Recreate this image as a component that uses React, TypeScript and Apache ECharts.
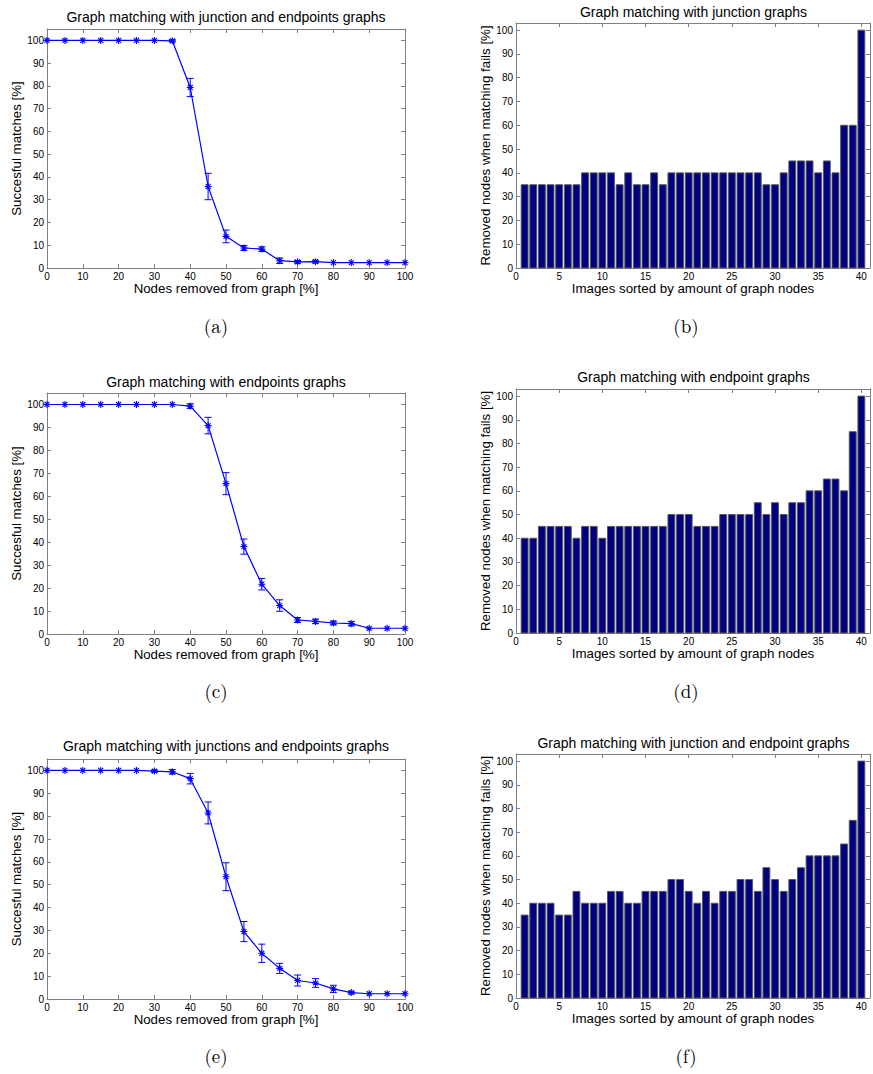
import React, { useEffect, useRef } from "react";
import * as echarts from "echarts";

// ---------- data ----------
const removedPct = [0, 5, 10, 15, 20, 25, 30, 35, 40, 45, 50, 55, 60, 65, 70, 75, 80, 85, 90, 95, 100];

const succA = [100, 100, 100, 100, 100, 100, 100, 99.8, 79.3, 35.8, 13.9, 8.8, 8.3, 3.2, 2.7, 2.8, 2.4, 2.4, 2.4, 2.4, 2.4];
const errA = [0, 0, 0, 0, 0, 0, 0, 0.5, 4.0, 5.8, 2.8, 1.1, 1.0, 1.2, 0.6, 0.6, 0, 0, 0, 0, 0];

const succC = [100, 100, 100, 100, 100, 100, 100, 100, 99.3, 90.8, 65.5, 38.1, 21.7, 12.4, 6.1, 5.5, 4.8, 4.5, 2.5, 2.5, 2.5];
const errC = [0, 0, 0, 0, 0, 0, 0, 0, 1.0, 3.6, 4.8, 3.3, 2.5, 2.5, 1.1, 1.0, 0.8, 1.0, 0, 0, 0];

const succE = [100, 100, 100, 100, 100, 100, 99.7, 99.4, 96.4, 81.4, 53.5, 29.5, 20.0, 13.4, 8.1, 7.0, 4.4, 2.8, 2.3, 2.3, 2.3];
const errE = [0, 0, 0, 0, 0, 0, 0.5, 1.0, 2.3, 4.8, 6.1, 4.4, 4.0, 2.2, 2.4, 1.9, 1.6, 0.6, 0, 0, 0];

const imageIdx = [1, 2, 3, 4, 5, 6, 7, 8, 9, 10, 11, 12, 13, 14, 15, 16, 17, 18, 19, 20, 21, 22, 23, 24, 25, 26, 27, 28, 29, 30, 31, 32, 33, 34, 35, 36, 37, 38, 39, 40];

const failB = [35, 35, 35, 35, 35, 35, 35, 40, 40, 40, 40, 35, 40, 35, 35, 40, 35, 40, 40, 40, 40, 40, 40, 40, 40, 40, 40, 40, 35, 35, 40, 45, 45, 45, 40, 45, 40, 60, 60, 100];
const failD = [40, 40, 45, 45, 45, 45, 40, 45, 45, 40, 45, 45, 45, 45, 45, 45, 45, 50, 50, 50, 45, 45, 45, 50, 50, 50, 50, 55, 50, 55, 50, 55, 55, 60, 60, 65, 65, 60, 85, 100];
const failF = [35, 40, 40, 40, 35, 35, 45, 40, 40, 40, 45, 45, 40, 40, 45, 45, 45, 50, 50, 45, 40, 45, 40, 45, 45, 50, 50, 45, 55, 50, 45, 50, 55, 60, 60, 60, 60, 65, 75, 100];

const titles = [
  "Graph matching with junction and endpoints graphs",
  "Graph matching with junction graphs",
  "Graph matching with endpoints graphs",
  "Graph matching with endpoint graphs",
  "Graph matching with junctions and endpoints graphs",
  "Graph matching with junction and endpoint graphs",
];
const captions = ["(a)", "(b)", "(c)", "(d)", "(e)", "(f)"];
const lineXLabel = "Nodes removed from graph [%]";
const lineYLabel = "Succesful matches [%]";
const barXLabel = "Images sorted by amount of graph nodes";
const barYLabel = "Removed nodes when matching fails [%]";

// ---------- layout ----------
const SANS = "'Liberation Sans', Arial, Helvetica, sans-serif";
const SERIF = "'Latin Modern Roman', 'DejaVu Serif', 'Liberation Serif', serif";
const BLUE = "#0000ff";
const BOX = "#808080";

type Panel = { left: number; top: number; width: number; height: number; kind: "line" | "bar" };
const panels: Panel[] = [
  { left: 47, top: 29, width: 358, height: 239, kind: "line" },
  { left: 516, top: 23, width: 355, height: 245, kind: "bar" },
  { left: 47, top: 393, width: 358, height: 241, kind: "line" },
  { left: 516, top: 389, width: 355, height: 244, kind: "bar" },
  { left: 47, top: 759, width: 358, height: 240, kind: "line" },
  { left: 516, top: 754, width: 355, height: 244, kind: "bar" },
];
const titleY = [17, 12, 382, 377, 746, 743];
const captionY = [325, 325, 690, 690, 1055, 1055];

const asterisk = "path://M0,-10L0,10M-10,0L10,0M-7.1,-7.1L7.1,7.1M-7.1,7.1L7.1,-7.1";

export default function App() {
  const ref = useRef<HTMLDivElement>(null);

  useEffect(() => {
    if (!ref.current) return;
    const chart = echarts.init(ref.current, undefined, { renderer: "svg" });

    const grids: any[] = [];
    const xAxes: any[] = [];
    const yAxes: any[] = [];
    const series: any[] = [];
    const graphics: any[] = [];

    const lineSets = [
      { s: succA, e: errA },
      { s: succC, e: errC },
      { s: succE, e: errE },
    ];
    const barSets = [failB, failD, failF];

    panels.forEach((p, i) => {
      grids.push({ left: p.left, top: p.top, width: p.width, height: p.height, show: false });
      const isLine = p.kind === "line";
      const xMax = isLine ? 100 : 41;
      const xInt = isLine ? 10 : 5;
      const yMax = isLine ? 105 : 103;
      const common = {
        gridIndex: i,
        axisLine: { show: true, onZero: false, lineStyle: { color: BOX, width: 1 } },
        axisTick: { show: true, inside: true, length: 4, lineStyle: { color: BOX } },
        splitLine: { show: false },
      };
      const xLabelFmt = (v: number) => (v % xInt === 0 && v <= (isLine ? 100 : 40) ? String(v) : "");
      const yLabelFmt = (v: number) => (v % 10 === 0 && v <= 100 ? String(v) : "");
      xAxes.push({
        ...common,
        type: "value",
        position: "bottom",
        min: 0,
        max: xMax,
        interval: xInt,
        axisLabel: { show: true, margin: 3, fontSize: 10, fontFamily: SANS, color: "#000", formatter: xLabelFmt, showMaxLabel: true },
        name: isLine ? lineXLabel : barXLabel,
        nameLocation: "middle",
        nameGap: 12,
        nameTextStyle: { fontSize: 13.3, fontFamily: SANS, color: "#000", verticalAlign: "top" },
      });
      xAxes.push({
        ...common,
        type: "value",
        position: "top",
        min: 0,
        max: xMax,
        interval: xInt,
        axisLabel: { show: false },
      });
      yAxes.push({
        ...common,
        type: "value",
        position: "left",
        min: 0,
        max: yMax,
        interval: 10,
        axisLabel: { show: true, margin: 3, fontSize: 10, fontFamily: SANS, color: "#000", formatter: yLabelFmt },
        name: isLine ? lineYLabel : barYLabel,
        nameLocation: "middle",
        nameGap: 22,
        nameRotate: 90,
        nameTextStyle: { fontSize: 13.3, fontFamily: SANS, color: "#000" },
      });
      yAxes.push({
        ...common,
        type: "value",
        position: "right",
        min: 0,
        max: yMax,
        interval: 10,
        axisLabel: { show: false },
      });

      const xi = 2 * i;
      const yi = 2 * i;
      if (isLine) {
        const set = lineSets[i / 2];
        series.push({
          type: "custom",
          xAxisIndex: xi,
          yAxisIndex: yi,
          silent: true,
          data: removedPct.map((x, k) => [x, set.s[k] - set.e[k], set.s[k] + set.e[k], set.e[k]]),
          renderItem: (_params: any, api: any) => {
            if (api.value(3) <= 0) return null;
            const x = api.value(0);
            const lo = api.coord([x, api.value(1)]);
            const hi = api.coord([x, api.value(2)]);
            const w = 3.5;
            const st = { stroke: BLUE, lineWidth: 1 };
            return {
              type: "group",
              children: [
                { type: "line", shape: { x1: lo[0], y1: lo[1], x2: hi[0], y2: hi[1] }, style: st },
                { type: "line", shape: { x1: lo[0] - w, y1: lo[1], x2: lo[0] + w, y2: lo[1] }, style: st },
                { type: "line", shape: { x1: hi[0] - w, y1: hi[1], x2: hi[0] + w, y2: hi[1] }, style: st },
              ],
            };
          },
          z: 2,
        });
        series.push({
          type: "line",
          xAxisIndex: xi,
          yAxisIndex: yi,
          data: removedPct.map((x, k) => [x, set.s[k]]),
          symbol: asterisk,
          symbolSize: 7,
          showSymbol: true,
          lineStyle: { color: BLUE, width: 1.2 },
          itemStyle: { color: BLUE, borderColor: BLUE, borderWidth: 1.1 },
          silent: true,
          z: 3,
        });
      } else {
        const vals = barSets[(i - 1) / 2];
        series.push({
          type: "custom",
          xAxisIndex: xi,
          yAxisIndex: yi,
          silent: true,
          data: imageIdx.map((x, k) => [x, vals[k]]),
          renderItem: (_params: any, api: any) => {
            const x = api.value(0);
            const v = api.value(1);
            const topPt = api.coord([x, v]);
            const base = api.coord([x, 0]);
            const w = api.size([0.8, 0])[0];
            return {
              type: "rect",
              shape: { x: topPt[0] - w / 2, y: topPt[1], width: w, height: base[1] - topPt[1] },
              style: { fill: "#000080", stroke: "#5a5a5a", lineWidth: 1 },
            };
          },
        });
      }

      graphics.push({
        type: "text",
        x: p.left + p.width / 2,
        y: titleY[i],
        style: { text: titles[i], fontSize: 14, fontFamily: SANS, fill: "#000", align: "center", verticalAlign: "middle" },
      });
      graphics.push({
        type: "text",
        x: i % 2 === 0 ? 216 : 686,
        y: captionY[i],
        style: { text: captions[i], fontSize: 19, fontFamily: SERIF, fill: "#000", align: "center", verticalAlign: "middle" },
      });
    });

    chart.setOption({
      animation: false,
      backgroundColor: "#ffffff",
      grid: grids,
      xAxis: xAxes,
      yAxis: yAxes,
      series,
      graphic: graphics,
    });

    return () => chart.dispose();
  }, []);

  return <div ref={ref} style={{ position: "absolute", left: 0, top: 0, width: 873, height: 1074, background: "#fff" }} />;
}
